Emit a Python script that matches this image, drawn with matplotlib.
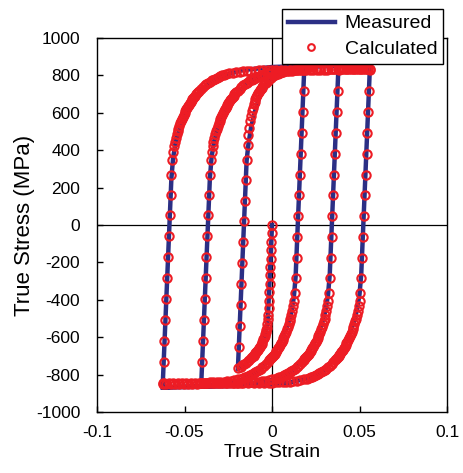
import matplotlib.pyplot as plt

plt.rcParams['font.family'] = ['Liberation Sans', 'DejaVu Sans']
plt.rcParams['axes.unicode_minus'] = False

# measured loops, one list of (strain, stress MPa) per reversal
meas_d0 = [(0.0, 0), (-0.0024, -510), (-0.0035, -575), (-0.005, -615), (-0.008, -672),
           (-0.012, -718), (-0.016, -750), (-0.0195, -772)]
meas_a1 = [(-0.0145, 345), (-0.0135, 430), (-0.012, 520), (-0.010, 600), (-0.007, 690),
           (-0.003, 760), (0.003, 810), (0.010, 835), (0.0185, 852)]
meas_d1 = [(0.0135, -275), (0.0125, -385), (0.011, -470), (0.009, -535), (0.006, -600),
           (0.002, -670), (-0.002, -720), (-0.008, -780), (-0.016, -825), (-0.027, -850),
           (-0.0405, -865)]
meas_a2 = [(-0.0355, 250), (-0.0345, 365), (-0.033, 450), (-0.031, 515), (-0.028, 585),
           (-0.024, 655), (-0.020, 705), (-0.014, 760), (-0.006, 800), (0.005, 830),
           (0.020, 845), (0.038, 852)]
meas_d2 = [(0.033, -265), (0.032, -375), (0.0305, -460), (0.0285, -530), (0.0255, -600),
           (0.0215, -670), (0.0175, -720), (0.0115, -780), (0.0035, -820), (-0.008, -845),
           (-0.025, -858), (-0.045, -863), (-0.0625, -867)]
meas_a3 = [(-0.0575, 248), (-0.0565, 360), (-0.055, 445), (-0.053, 510), (-0.050, 580),
           (-0.046, 650), (-0.042, 700), (-0.036, 755), (-0.028, 798), (-0.017, 828),
           (0.000, 845), (0.025, 852), (0.056, 856)]
meas_d3 = [(0.051, -262), (0.050, -372), (0.0485, -457), (0.0465, -527), (0.0435, -597),
           (0.0395, -667), (0.0355, -717), (0.0295, -777), (0.0215, -817), (0.010, -843),
           (-0.010, -858), (-0.035, -864), (-0.0625, -870)]

# calculated points
calc_d0 = [(0.0, 0), (-0.0002, -45), (-0.0004, -90), (-0.0006, -135), (-0.0008, -180),
           (-0.0010, -225), (-0.0012, -270), (-0.0014, -315), (-0.0016, -360), (-0.0018, -405),
           (-0.0020, -445), (-0.0022, -480), (-0.0024, -505), (-0.0027, -530), (-0.0031, -552),
           (-0.0036, -572), (-0.0042, -592), (-0.0050, -612), (-0.0060, -634), (-0.0070, -652),
           (-0.0080, -667), (-0.0090, -680), (-0.0100, -692), (-0.0110, -703), (-0.0120, -712),
           (-0.0130, -721), (-0.0140, -729), (-0.0150, -737), (-0.0160, -744), (-0.0170, -751),
           (-0.0180, -757), (-0.0195, -765),
           (-0.0033, -560), (-0.0039, -582), (-0.0046, -602), (-0.0055, -623), (-0.0065, -643),
           (-0.0075, -660), (-0.0085, -674), (-0.0095, -686), (-0.0105, -698), (-0.0115, -708)]
calc_a1 = [(-0.0190, -653), (-0.0185, -541), (-0.0180, -429), (-0.0175, -317), (-0.0170, -205),
           (-0.0165, -93), (-0.0160, 19), (-0.0155, 131), (-0.0150, 243), (-0.0145, 350),
           (-0.0140, 430), (-0.0135, 480), (-0.0130, 520), (-0.0125, 555), (-0.0120, 585),
           (-0.0115, 610), (-0.0105, 645), (-0.0095, 672), (-0.0085, 695), (-0.0075, 712),
           (-0.0065, 727), (-0.0055, 740), (-0.0045, 752), (-0.0035, 762), (-0.0015, 780),
           (0.0005, 795), (0.0025, 806), (0.0045, 814), (0.0065, 820), (0.0085, 824),
           (0.0105, 827), (0.0125, 829), (0.0145, 830), (0.0165, 831), (0.0185, 832),
           (-0.0110, 628), (-0.0100, 659), (-0.0090, 684), (-0.0080, 704), (-0.0070, 720),
           (-0.0060, 734), (-0.0050, 746), (-0.0040, 757), (-0.0025, 771), (-0.0005, 788),
           (0.0015, 801), (0.0035, 810), (0.0055, 817)]
calc_d1 = [(0.0185, 830), (0.0180, 718), (0.0175, 606), (0.0170, 494), (0.0165, 382),
           (0.0160, 270), (0.0155, 158), (0.0150, 46), (0.0145, -66), (0.0140, -178),
           (0.0135, -285), (0.0130, -365), (0.0125, -405), (0.0120, -435), (0.0115, -460),
           (0.0110, -482), (0.0105, -500), (0.0095, -530), (0.0085, -558), (0.0075, -582),
           (0.0065, -604), (0.0055, -624), (0.0045, -642), (0.0035, -659), (0.0025, -674),
           (0.0015, -688), (0.0005, -701), (-0.0005, -713), (-0.0015, -724), (-0.0035, -744),
           (-0.0055, -762), (-0.0075, -776), (-0.0095, -788), (-0.0115, -798), (-0.0135, -807),
           (-0.0155, -815), (-0.0175, -821), (-0.0195, -826), (-0.0215, -830), (-0.0235, -833),
           (-0.0255, -835), (-0.0275, -837), (-0.0295, -839), (-0.0315, -840), (-0.0335, -841),
           (-0.0355, -842), (-0.0375, -843), (-0.0395, -844), (-0.0405, -845),
           (0.0100, -516), (0.0090, -544), (0.0080, -570), (0.0070, -593), (0.0060, -614),
           (0.0050, -633), (0.0040, -651), (0.0030, -667), (0.0020, -681), (0.0010, -695),
           (0.0000, -707), (-0.0010, -719), (-0.0025, -734), (-0.0045, -753), (-0.0065, -769),
           (-0.0085, -782), (-0.0105, -793), (-0.0125, -803), (-0.0145, -811), (-0.0165, -818)]
calc_a2 = [(-0.0400, -733), (-0.0395, -621), (-0.0390, -509), (-0.0385, -397), (-0.0380, -285),
           (-0.0375, -173), (-0.0370, -61), (-0.0365, 51), (-0.0360, 163), (-0.0355, 270),
           (-0.0350, 350), (-0.0345, 390), (-0.0340, 420), (-0.0335, 445), (-0.0330, 467),
           (-0.0325, 485), (-0.0315, 515), (-0.0305, 543), (-0.0295, 567), (-0.0285, 589),
           (-0.0275, 609), (-0.0265, 627), (-0.0255, 644), (-0.0245, 659), (-0.0235, 673),
           (-0.0225, 686), (-0.0215, 698), (-0.0205, 709), (-0.0185, 729), (-0.0165, 747),
           (-0.0145, 761), (-0.0125, 773), (-0.0105, 783), (-0.0085, 792), (-0.0065, 800),
           (-0.0045, 806), (-0.0025, 811), (-0.0005, 815), (0.0015, 818), (0.0035, 820),
           (0.0055, 822), (0.0075, 824), (0.0095, 825), (0.0115, 826), (0.0135, 827),
           (0.0155, 828), (0.0175, 829), (0.0195, 829), (0.0215, 830), (0.0235, 830),
           (0.0255, 830), (0.0275, 831), (0.0295, 831), (0.0315, 831), (0.0335, 832),
           (0.0355, 832), (0.0375, 832), (0.0380, 832),
           (-0.0320, 501), (-0.0310, 529), (-0.0300, 555), (-0.0290, 578), (-0.0280, 599),
           (-0.0270, 618), (-0.0260, 636), (-0.0250, 652), (-0.0240, 666), (-0.0230, 680),
           (-0.0220, 692), (-0.0210, 704), (-0.0195, 719), (-0.0175, 738), (-0.0155, 754),
           (-0.0135, 767), (-0.0115, 778), (-0.0095, 788), (-0.0075, 796), (-0.0055, 803)]
calc_d2 = [(0.0380, 830), (0.0375, 718), (0.0370, 606), (0.0365, 494), (0.0360, 382),
           (0.0355, 270), (0.0350, 158), (0.0345, 46), (0.0340, -66), (0.0335, -178),
           (0.0330, -285), (0.0325, -365), (0.0320, -405), (0.0315, -435), (0.0310, -460),
           (0.0305, -482), (0.0300, -500), (0.0290, -530), (0.0280, -558), (0.0270, -582),
           (0.0260, -604), (0.0250, -624), (0.0240, -642), (0.0230, -659), (0.0220, -674),
           (0.0210, -688), (0.0200, -701), (0.0190, -713), (0.0180, -724), (0.0160, -744),
           (0.0140, -762), (0.0120, -776), (0.0100, -788), (0.0080, -798), (0.0060, -807),
           (0.0040, -815), (0.0020, -821), (0.0000, -826), (-0.0020, -830), (-0.0040, -833),
           (-0.0060, -835), (-0.0080, -837), (-0.0100, -839), (-0.0120, -840), (-0.0140, -841),
           (-0.0160, -842), (-0.0180, -843), (-0.0200, -844), (-0.0220, -844), (-0.0240, -845),
           (-0.0265, -845), (-0.0290, -845), (-0.0315, -846), (-0.0340, -846), (-0.0365, -846),
           (-0.0390, -846), (-0.0415, -847), (-0.0440, -847), (-0.0465, -847), (-0.0490, -847),
           (-0.0515, -847), (-0.0540, -847), (-0.0565, -847), (-0.0590, -847), (-0.0615, -847),
           (-0.0625, -845),
           (0.0295, -516), (0.0285, -544), (0.0275, -570), (0.0265, -593), (0.0255, -614),
           (0.0245, -633), (0.0235, -651), (0.0225, -667), (0.0215, -681), (0.0205, -695),
           (0.0195, -707), (0.0185, -719), (0.0170, -734), (0.0150, -753), (0.0130, -769),
           (0.0110, -782), (0.0090, -793), (0.0070, -803), (0.0050, -811), (0.0030, -818)]
calc_a3 = [(-0.0620, -733), (-0.0615, -621), (-0.0610, -509), (-0.0605, -397), (-0.0600, -285),
           (-0.0595, -173), (-0.0590, -61), (-0.0585, 51), (-0.0580, 163), (-0.0575, 270),
           (-0.0570, 350), (-0.0565, 390), (-0.0560, 420), (-0.0555, 445), (-0.0550, 467),
           (-0.0545, 485), (-0.0535, 515), (-0.0525, 543), (-0.0515, 567), (-0.0505, 589),
           (-0.0495, 609), (-0.0485, 627), (-0.0475, 644), (-0.0465, 659), (-0.0455, 673),
           (-0.0445, 686), (-0.0435, 698), (-0.0425, 709), (-0.0405, 729), (-0.0385, 747),
           (-0.0365, 761), (-0.0345, 773), (-0.0325, 783), (-0.0305, 792), (-0.0285, 800),
           (-0.0265, 806), (-0.0245, 811), (-0.0225, 815), (-0.0205, 818), (-0.0185, 820),
           (-0.0165, 822), (-0.0145, 824), (-0.0125, 825), (-0.0100, 826), (-0.0075, 827),
           (-0.0050, 828), (-0.0025, 829), (0.0000, 829), (0.0025, 830), (0.0050, 830),
           (0.0075, 831), (0.0100, 831), (0.0125, 831), (0.0150, 832), (0.0175, 832),
           (0.0200, 832), (0.0225, 833), (0.0250, 833), (0.0275, 833), (0.0300, 833),
           (0.0320, 834), (0.0340, 834), (0.0360, 834), (0.0380, 834), (0.0400, 834),
           (0.0420, 835), (0.0440, 835), (0.0460, 835), (0.0480, 835), (0.0500, 835),
           (0.0520, 835), (0.0540, 835), (0.0560, 835),
           (-0.0540, 501), (-0.0530, 529), (-0.0520, 555), (-0.0510, 578), (-0.0500, 599),
           (-0.0490, 618), (-0.0480, 636), (-0.0470, 652), (-0.0460, 666), (-0.0450, 680),
           (-0.0440, 692), (-0.0430, 704), (-0.0415, 719), (-0.0395, 738), (-0.0375, 754),
           (-0.0355, 767), (-0.0335, 778), (-0.0315, 788), (-0.0295, 796), (-0.0275, 803),
           (0.0390, 834), (0.0410, 834), (0.0430, 835), (0.0450, 835), (0.0470, 835),
           (0.0490, 835), (0.0510, 835), (0.0530, 835), (0.0550, 835)]
calc_d3 = [(0.0560, 830), (0.0555, 718), (0.0550, 606), (0.0545, 494), (0.0540, 382),
           (0.0535, 270), (0.0530, 158), (0.0525, 46), (0.0520, -66), (0.0515, -178),
           (0.0510, -285), (0.0505, -365), (0.0500, -405), (0.0495, -435), (0.0490, -460),
           (0.0485, -482), (0.0480, -500), (0.0470, -530), (0.0460, -558), (0.0450, -582),
           (0.0440, -604), (0.0430, -624), (0.0420, -642), (0.0410, -659), (0.0400, -674),
           (0.0390, -688), (0.0380, -701), (0.0370, -713), (0.0360, -724), (0.0340, -744),
           (0.0320, -762), (0.0300, -776), (0.0280, -788), (0.0260, -798), (0.0240, -807),
           (0.0220, -815), (0.0200, -821), (0.0180, -826), (0.0160, -830), (0.0140, -833),
           (0.0120, -835), (0.0100, -837), (0.0080, -839), (0.0060, -840), (0.0040, -841),
           (0.0020, -842), (0.0000, -843), (-0.0015, -844), (-0.0045, -844), (-0.0075, -845),
           (-0.0105, -845), (-0.0135, -845), (-0.0165, -846), (-0.0195, -846), (-0.0225, -846),
           (-0.0255, -846), (-0.0280, -847), (-0.0305, -847), (-0.0330, -847), (-0.0355, -847),
           (-0.0380, -847), (-0.0405, -847), (-0.0430, -848), (-0.0455, -848), (-0.0480, -848),
           (-0.0505, -848), (-0.0530, -848), (-0.0555, -848), (-0.0580, -848), (-0.0605, -848),
           (-0.0625, -848),
           (0.0475, -516), (0.0465, -544), (0.0455, -570), (0.0445, -593), (0.0435, -614),
           (0.0425, -633), (0.0415, -651), (0.0405, -667), (0.0395, -681), (0.0385, -695),
           (0.0375, -707), (0.0365, -719), (0.0350, -734), (0.0330, -753), (0.0310, -769),
           (0.0290, -782), (0.0270, -793), (0.0250, -803), (0.0230, -811), (0.0210, -818)]

x_ticks = [-0.1, -0.05, 0, 0.05, 0.1]
x_labels = ['-0.1', '-0.05', '0', '0.05', '0.1']
y_ticks = [-1000, -800, -600, -400, -200, 0, 200, 400, 600, 800, 1000]

measured = meas_d0 + meas_a1 + meas_d1 + meas_a2 + meas_d2 + meas_a3 + meas_d3
calculated = calc_d0 + calc_a1 + calc_d1 + calc_a2 + calc_d2 + calc_a3 + calc_d3
meas_x, meas_y = zip(*measured)
calc_x, calc_y = zip(*calculated)

fig = plt.figure(figsize=(4.63, 4.73), dpi=100)
ax = fig.add_axes([97 / 463, 61 / 473, 350 / 463, 374 / 473])

ax.axhline(0, color='black', lw=0.9, zorder=1)
ax.axvline(0, color='black', lw=0.9, zorder=1)
ax.plot(meas_x, meas_y, color='#2b2f85', lw=3.2, label='Measured', zorder=2)
ax.plot(calc_x, calc_y, ls='none', marker='o', ms=6, mfc='none', mec='#ed1c24',
        mew=1.5, label='Calculated', zorder=3)

ax.set_xlim(-0.1, 0.1)
ax.set_ylim(-1000, 1000)
ax.set_xticks(x_ticks)
ax.set_xticklabels(x_labels)
ax.set_yticks(y_ticks)
ax.tick_params(direction='in', length=4, width=1, labelsize=12.5)
ax.tick_params(axis='y', pad=12)
ax.tick_params(axis='x', pad=9)
for s in ax.spines.values():
    s.set_linewidth(1)
ax.set_xlabel('True Strain', fontsize=14, labelpad=3)
ax.set_ylabel('True Stress (MPa)', fontsize=16, labelpad=1)

leg = ax.legend(loc='upper right', bbox_to_anchor=(443 / 463, 1 - 9 / 473),
                bbox_transform=fig.transFigure, fontsize=14, fancybox=False,
                edgecolor='black', framealpha=1, numpoints=1, handlelength=2.4,
                borderpad=0.3, labelspacing=0.4, handletextpad=0.5, borderaxespad=0,
                markerscale=0.8)
leg.get_frame().set_linewidth(1)

fig.savefig('out.png', dpi=100)
